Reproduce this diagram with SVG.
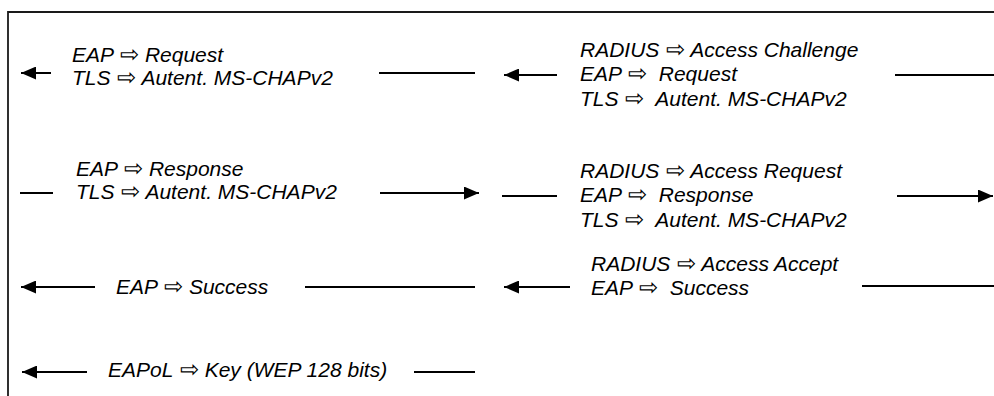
<svg xmlns="http://www.w3.org/2000/svg" width="994" height="396" viewBox="0 0 994 396">
<style>
  .lbl { font-family: "Liberation Sans", Arial, "DejaVu Sans", sans-serif; font-style: italic; font-size: 21px; fill: #000; }
  .sym { font-family: "DejaVu Sans", sans-serif; font-style: normal; font-weight: 200; font-size: 23px; }
  .ln { stroke: #000; stroke-width: 2; fill: none; }
  .arr { stroke: #000; stroke-width: 2; fill: none; marker-end: url(#head); }
  .frame { stroke: #1a1a1a; stroke-width: 1.8; fill: none; }
</style>
<defs>
  <marker id="head" markerUnits="userSpaceOnUse" markerWidth="15" markerHeight="13" viewBox="0 0 15 13" refX="15" refY="6.5" orient="auto">
    <path d="M0,0 L15,6.5 L0,13 z" fill="#000"/>
  </marker>
</defs>
<rect width="994" height="396" fill="#fff"/>
<path class="frame" d="M8,396 L8,12 L994,12"/>

<g id="connectors">
  <line class="arr" x1="51" y1="73" x2="21" y2="73"/>
  <line class="ln" x1="379" y1="73" x2="475" y2="73"/>
  <line class="arr" x1="557" y1="75" x2="504" y2="75"/>
  <line class="ln" x1="895" y1="75" x2="994" y2="75"/>

  <line class="ln" x1="20" y1="193" x2="53" y2="193"/>
  <line class="arr" x1="380" y1="193" x2="479" y2="193"/>
  <line class="ln" x1="502" y1="196" x2="557" y2="196"/>
  <line class="arr" x1="897" y1="196" x2="993" y2="196"/>

  <line class="arr" x1="95" y1="287" x2="21" y2="287"/>
  <line class="ln" x1="305" y1="287" x2="475" y2="287"/>
  <line class="arr" x1="570" y1="287" x2="504" y2="287"/>
  <line class="ln" x1="862" y1="286" x2="994" y2="286"/>

  <line class="arr" x1="87" y1="372" x2="22" y2="372"/>
  <line class="ln" x1="414" y1="372" x2="475" y2="372"/>
</g>

<g id="msg-eap-request">
  <text class="lbl" x="72" y="62">EAP <tspan class="sym" dx="1">⇨</tspan> Request</text>
  <text class="lbl" x="72" y="85">TLS <tspan class="sym" dx="1">⇨</tspan> Autent. MS-CHAPv2</text>
</g>
<g id="msg-radius-challenge">
  <text class="lbl" x="580" y="57" xml:space="preserve">RADIUS <tspan class="sym" dx="1">⇨</tspan> Access Challenge</text>
  <text class="lbl" x="580" y="81" xml:space="preserve">EAP <tspan class="sym" dx="1">⇨</tspan>  Request</text>
  <text class="lbl" x="580" y="106" xml:space="preserve">TLS <tspan class="sym" dx="1">⇨</tspan>  Autent. MS-CHAPv2</text>
</g>
<g id="msg-eap-response">
  <text class="lbl" x="76" y="176">EAP <tspan class="sym" dx="1">⇨</tspan> Response</text>
  <text class="lbl" x="76" y="199">TLS <tspan class="sym" dx="1">⇨</tspan> Autent. MS-CHAPv2</text>
</g>
<g id="msg-radius-request">
  <text class="lbl" x="580" y="178" xml:space="preserve">RADIUS <tspan class="sym" dx="1">⇨</tspan> Access Request</text>
  <text class="lbl" x="580" y="202" xml:space="preserve">EAP <tspan class="sym" dx="1">⇨</tspan>  Response</text>
  <text class="lbl" x="580" y="227" xml:space="preserve">TLS <tspan class="sym" dx="1">⇨</tspan>  Autent. MS-CHAPv2</text>
</g>
<g id="msg-eap-success">
  <text class="lbl" x="116" y="294">EAP <tspan class="sym" dx="1">⇨</tspan> Success</text>
</g>
<g id="msg-radius-accept">
  <text class="lbl" x="591" y="271" xml:space="preserve">RADIUS <tspan class="sym" dx="1">⇨</tspan> Access Accept</text>
  <text class="lbl" x="591" y="295" xml:space="preserve">EAP <tspan class="sym" dx="1">⇨</tspan>  Success</text>
</g>
<g id="msg-eapol-key">
  <text class="lbl" x="108" y="377">EAPoL <tspan class="sym" dx="1">⇨</tspan> Key (WEP 128 bits)</text>
</g>
</svg>
